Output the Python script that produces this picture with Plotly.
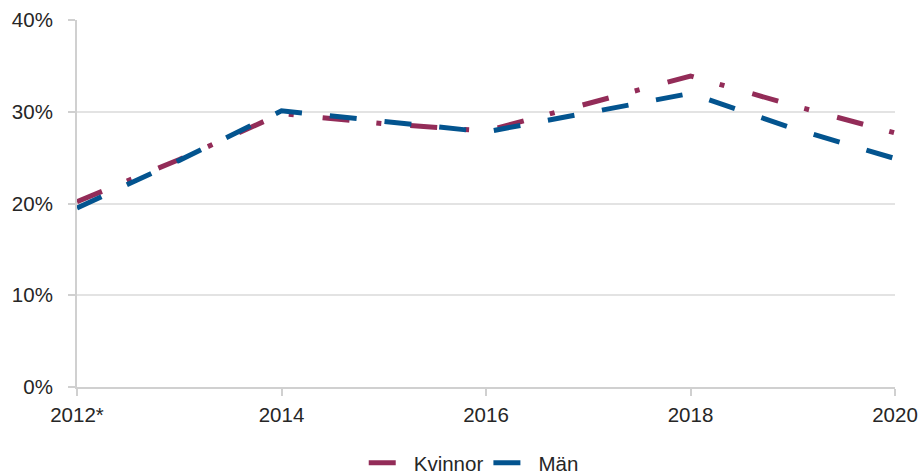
import plotly.graph_objects as go

years = [2012, 2013, 2014, 2015, 2016, 2017, 2018, 2019, 2020]
kvinnor = [0.202, 0.248, 0.298, 0.287, 0.279, 0.309, 0.339, 0.307, 0.277]
man = [0.195, 0.247, 0.301, 0.289, 0.278, 0.299, 0.320, 0.282, 0.249]
tick_years = [2012, 2014, 2016, 2018, 2020]
tick_labels = ["2012*", "2014", "2016", "2018", "2020"]

RED = "#932C58"
BLUE = "#03548F"
FONT = "Liberation Sans, Arial, sans-serif"

fig = go.Figure()
fig.add_trace(go.Scatter(x=years, y=kvinnor, name="Kvinnor", mode="lines",
                         line=dict(color=RED, width=5, dash="27px,27px,5px,29px")))
fig.add_trace(go.Scatter(x=years, y=man, name="Män", mode="lines",
                         line=dict(color=BLUE, width=5, dash="27px,28px")))

fig.update_layout(
    width=922, height=474,
    margin=dict(l=77, r=27, t=20, b=87, autoexpand=False),
    paper_bgcolor="white", plot_bgcolor="white",
    font=dict(family=FONT, size=20.5, color="#262626"),
    showlegend=True,
    legend=dict(orientation="h", x=0.485, xanchor="center", y=-0.207, yanchor="middle",
                font=dict(size=20.5), itemwidth=40),
    xaxis=dict(range=[2012, 2020], tickvals=tick_years, ticktext=tick_labels,
               showgrid=False, showline=True, linecolor="#d0d0d0", linewidth=2,
               ticks="outside", ticklen=7, tickcolor="#d0d0d0", tickwidth=2,
               zeroline=False, ticklabelstandoff=1, automargin=False),
    yaxis=dict(range=[0, 0.4], tickvals=[0, 0.1, 0.2, 0.3, 0.4], tickformat=".0%",
               showgrid=True, gridcolor="#e3e3e3", gridwidth=2,
               showline=True, linecolor="#d0d0d0", linewidth=2,
               ticks="outside", ticklen=7, tickcolor="#d0d0d0", tickwidth=2,
               zeroline=False, ticklabelstandoff=11, automargin=False),
)

fig.write_html("out.html", config={"displayModeBar": False},
               post_script="document.body.style.margin='0';document.body.style.overflow='hidden';")
